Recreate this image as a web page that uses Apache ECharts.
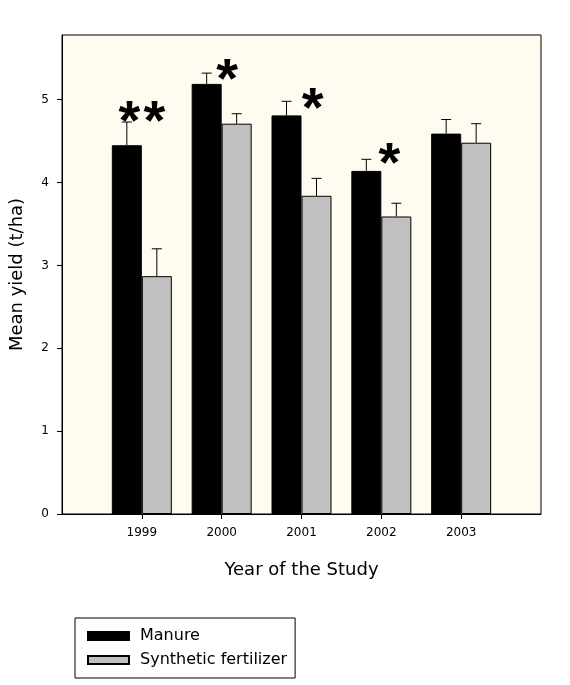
<!DOCTYPE html>
<html>
<head>
<meta charset="utf-8">
<script src="https://cdn.jsdelivr.net/npm/echarts@6/dist/echarts.min.js"></script>
<style>
html,body{margin:0;padding:0;background:#fff;}
#chart{width:570px;height:685px;}
</style>
</head>
<body>
<div id="chart"></div>
<script>
var years = [1999, 2000, 2001, 2002, 2003];
var manure = [4.45, 5.19, 4.81, 4.14, 4.59];
var manureUpper = [4.73, 5.32, 4.98, 4.28, 4.76];
var synthetic = [2.87, 4.71, 3.84, 3.59, 4.48];
var syntheticUpper = [3.20, 4.83, 4.05, 3.75, 4.71];
var yTicks = [0, 1, 2, 3, 4, 5];
var starX = [1999.0, 2000.07, 2001.14, 2002.1];
var starY = [4.87, 5.37, 5.02, 4.36];
var starText = ['**', '*', '*', '*'];

var FONT = 'DejaVu Sans';
var BAR_W = 30;
var STAR_STEP = 25;

function pairs(xs, ys) { return xs.map(function (x, i) { return [x, ys[i]]; }); }
function errData(vals, ups) { return years.map(function (y, i) { return [y, vals[i], ups[i]]; }); }

function errRender(shift) {
  return function (params, api) {
    var lo = api.coord([api.value(0), api.value(1)]);
    var hi = api.coord([api.value(0), api.value(2)]);
    var x = lo[0] + shift;
    var cap = 5;
    return {
      type: 'group',
      children: [
        { type: 'line', shape: { x1: x, y1: lo[1], x2: x, y2: hi[1] }, style: { stroke: '#000', lineWidth: 1 } },
        { type: 'line', shape: { x1: x - cap, y1: hi[1], x2: x + cap, y2: hi[1] }, style: { stroke: '#000', lineWidth: 1 } }
      ]
    };
  };
}

var chart = echarts.init(document.getElementById('chart'));
chart.setOption({
  backgroundColor: '#fff',
  animation: false,
  grid: {
    left: 62, right: 29, top: 35, bottom: 171,
    show: true, backgroundColor: '#FFFBF0', borderColor: '#000', borderWidth: 1
  },
  legend: {
    orient: 'vertical',
    left: 75, top: 618,
    padding: [10, 8, 10, 12],
    itemGap: 8,
    itemWidth: 41, itemHeight: 8,
    icon: 'rect',
    borderColor: '#000', borderWidth: 1, borderRadius: 0,
    backgroundColor: '#fff',
    textStyle: { fontFamily: FONT, fontSize: 16, color: '#000', lineHeight: 16, padding: [0, 0, 0, 6] },
    data: ['Manure', 'Synthetic fertilizer']
  },
  xAxis: {
    type: 'value', min: 1998, max: 2004, interval: 1,
    name: 'Year of the Study', nameLocation: 'middle', nameGap: 47,
    nameTextStyle: { fontFamily: FONT, fontSize: 18, color: '#000' },
    axisLine: { show: true, lineStyle: { color: '#000', width: 1 } },
    axisTick: { show: true, length: 5, customValues: years, lineStyle: { color: '#000' } },
    axisLabel: {
      fontFamily: FONT, fontSize: 12, color: '#000', margin: 13, customValues: years,
      formatter: function (v) { return (v >= 1999 && v <= 2003) ? String(v) : ''; }
    },
    splitLine: { show: false }
  },
  yAxis: {
    type: 'value', min: 0, max: 5.78, interval: 1,
    name: 'Mean yield (t/ha)', nameLocation: 'middle', nameGap: 36,
    nameTextStyle: { fontFamily: FONT, fontSize: 18, color: '#000' },
    axisLine: { show: true, lineStyle: { color: '#000', width: 1 } },
    axisTick: { show: true, length: 5, customValues: yTicks, lineStyle: { color: '#000' } },
    axisLabel: { fontFamily: FONT, fontSize: 12, color: '#000', margin: 13, customValues: yTicks },
    splitLine: { show: false }
  },
  series: [
    {
      name: 'Manure', type: 'bar', barWidth: BAR_W, barGap: '0%',
      itemStyle: { color: '#000', borderColor: '#000', borderWidth: 1 },
      data: pairs(years, manure), z: 2
    },
    {
      name: 'Synthetic fertilizer', type: 'bar', barWidth: BAR_W, barGap: '0%',
      itemStyle: { color: '#C0C0C0', borderColor: '#000', borderWidth: 1 },
      data: pairs(years, synthetic), z: 2
    },
    {
      type: 'custom', renderItem: errRender(-BAR_W / 2), data: errData(manure, manureUpper),
      encode: { x: 0, y: [1, 2] }, z: 3, silent: true
    },
    {
      type: 'custom', renderItem: errRender(BAR_W / 2), data: errData(synthetic, syntheticUpper),
      encode: { x: 0, y: [1, 2] }, z: 3, silent: true
    },
    {
      type: 'custom', z: 4, silent: true,
      data: starX.map(function (x, i) { return [x, starY[i]]; }),
      encode: { x: 0, y: 1 },
      renderItem: function (params, api) {
        var p = api.coord([api.value(0), api.value(1)]);
        var chars = starText[params.dataIndex].split('');
        var n = chars.length;
        return {
          type: 'group',
          children: chars.map(function (c, k) {
            return {
              type: 'text',
              x: p[0] + (k - (n - 1) / 2) * STAR_STEP, y: p[1] + 13,
              style: {
                text: c,
                fontFamily: 'Liberation Sans, Arial', fontWeight: 'bold', fontSize: 56,
                fill: '#000', align: 'center', verticalAlign: 'middle'
              }
            };
          })
        };
      }
    }
  ]
});
</script>
</body>
</html>
